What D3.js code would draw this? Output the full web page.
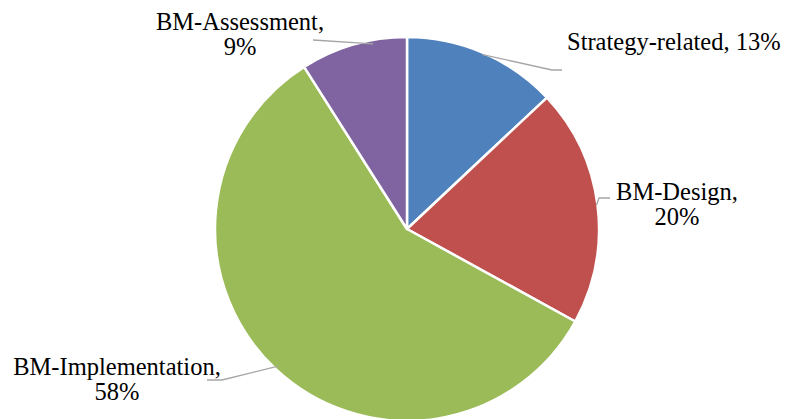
<!DOCTYPE html>
<html>
<head>
<meta charset="utf-8">
<script src="https://cdn.jsdelivr.net/npm/d3@7"></script>
<style>
  html, body { margin: 0; padding: 0; background: #fff; }
  svg { display: block; }
</style>
</head>
<body>
<svg id="chart" width="786" height="419"></svg>
<script>
// Share of studies by topic
const categories = ["Strategy-related", "BM-Design", "BM-Implementation", "BM-Assessment"];
const values = [13, 20, 58, 9];
const colors = ["#4F81BD", "#C0504D", "#9BBB59", "#8064A2"];

// Label anchor positions and leader-line bends
const labelLayout = [
  { x: 567, y: 50, anchor: "start", rim: 0.99, frac: 0.5, bends: [[552, 70], [562, 70]] },
  { x: 677, y: 200, anchor: "middle", rim: 0.995, frac: 0.5, bends: [[599, 198], [610, 198]] },
  { x: 117, y: 375, anchor: "middle", rim: 0.98, frac: 0.5, bends: [[222, 380], [207, 380]] },
  { x: 240, y: 30, anchor: "middle", rim: 0.98, frac: 0.68, bends: [[313, 40]] }
];
// Label text: single line for the first slice, name and share stacked for the others
const labelLines = categories.map((c, i) =>
  i === 0 ? [`${c}, ${values[i]}%`] : [`${c},`, `${values[i]}%`]);

const fontFamily = "'Liberation Serif', 'Times New Roman', serif";

const cx = 407, cy = 229, radius = 192;

const svg = d3.select("#chart");
const g = svg.append("g").attr("transform", `translate(${cx},${cy})`);

const pie = d3.pie().sort(null).value(d => d);
const arcs = pie(values);
const arc = d3.arc().innerRadius(0).outerRadius(radius);

g.selectAll("path.slice")
  .data(arcs)
  .join("path")
  .attr("class", "slice")
  .attr("d", arc)
  .attr("fill", (d, i) => colors[i])
  .attr("stroke", "#fff")
  .attr("stroke-width", 2.5)
  .attr("stroke-linejoin", "round");

// Leader lines from each slice edge to its label
arcs.forEach((a, i) => {
  const lay = labelLayout[i];
  const r0 = radius * lay.rim;
  const ang = a.startAngle + (a.endAngle - a.startAngle) * lay.frac;
  const p0 = [cx + r0 * Math.sin(ang), cy - r0 * Math.cos(ang)];
  svg.append("path")
    .attr("d", d3.line()([p0, ...lay.bends]))
    .attr("fill", "none")
    .attr("stroke", "#A6A6A6")
    .attr("stroke-width", 1.3);
});

// Labels
labelLayout.forEach((lay, i) => {
  const t = svg.append("text")
    .attr("x", lay.x)
    .attr("y", lay.y)
    .attr("text-anchor", lay.anchor)
    .attr("font-family", fontFamily)
    .attr("font-size", 24.5)
    .attr("fill", "#000");
  labelLines[i].forEach((ln, j) => {
    t.append("tspan")
      .attr("x", lay.x)
      .attr("dy", j === 0 ? 0 : 25)
      .text(ln);
  });
});
</script>
</body>
</html>
